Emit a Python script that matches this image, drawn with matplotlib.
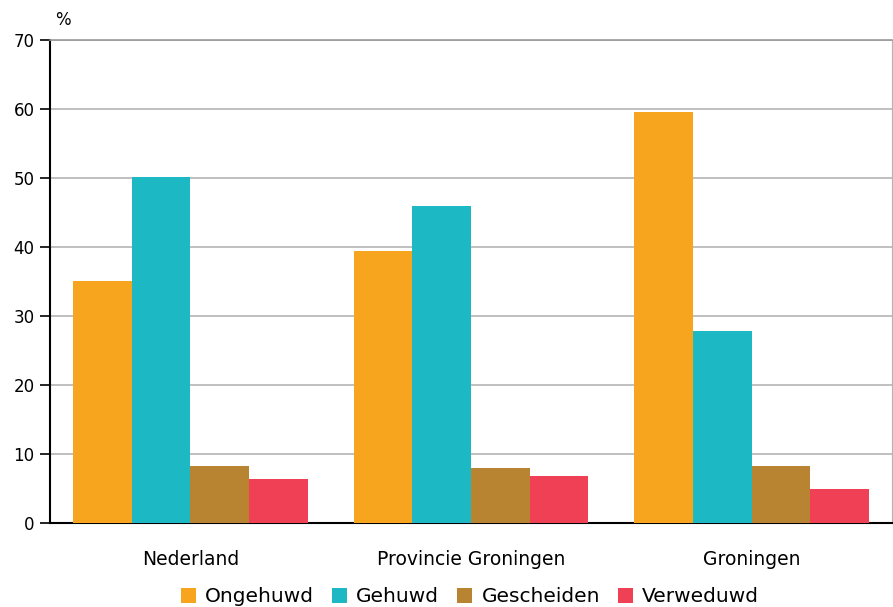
import numpy as np
import matplotlib
matplotlib.use("Agg")
import matplotlib.pyplot as plt
from matplotlib.patches import Patch

categories = ["Nederland", "Provincie Groningen", "Groningen"]
series = ["Ongehuwd", "Gehuwd", "Gescheiden", "Verweduwd"]
ongehuwd = [35.1, 39.4, 59.5]
gehuwd = [50.2, 46.0, 27.9]
gescheiden = [8.3, 8.0, 8.3]
verweduwd = [6.4, 6.9, 4.9]
yticks = [0, 10, 20, 30, 40, 50, 60, 70]

colors = ["#F7A51F", "#1CB9C4", "#B88431", "#EF4056"]


def main():
    values = [ongehuwd, gehuwd, gescheiden, verweduwd]

    fig = plt.figure(figsize=(8.93, 6.07), dpi=100)
    ax = fig.add_axes([50 / 893, (607 - 523.3) / 607, 842 / 893, (523.3 - 40) / 607])

    x = np.arange(len(categories))
    w = 0.835 / 4
    for i, (vals, c) in enumerate(zip(values, colors)):
        ax.bar(x + (i - 1.5) * w, vals, width=w, color=c, zorder=3)

    ax.set_xlim(-0.5, 2.5)
    ax.set_ylim(0, 70)
    ax.set_yticks(yticks)
    ax.yaxis.grid(True, color="#b4b4b4", linewidth=1.2, zorder=0)
    ax.set_xticks(x)
    ax.set_xticklabels(categories, fontsize=13.5)
    ax.tick_params(axis="x", length=0, pad=19)
    ax.tick_params(axis="y", length=7, width=1.2, labelsize=12, pad=4)

    ax.spines["left"].set_linewidth(1.5)
    ax.spines["bottom"].set_linewidth(1.5)
    ax.spines["top"].set_color("#999999")
    ax.spines["top"].set_linewidth(1.2)
    ax.spines["right"].set_color("#b4b4b4")

    fig.text(63 / 893, 1 - 20 / 607, "%", fontsize=12, ha="center", va="center")

    handles = [Patch(facecolor=c, label=s) for s, c in zip(series, colors)]
    fig.legend(handles=handles, loc="center", bbox_to_anchor=(470 / 893, 1 - 597 / 607),
               ncol=4, frameon=False, fontsize=14.5, handlelength=0.75, handleheight=0.75,
               handletextpad=0.45, columnspacing=0.9, borderpad=0)

    fig.savefig("out.png", dpi=100)


if __name__ == "__main__":
    main()
